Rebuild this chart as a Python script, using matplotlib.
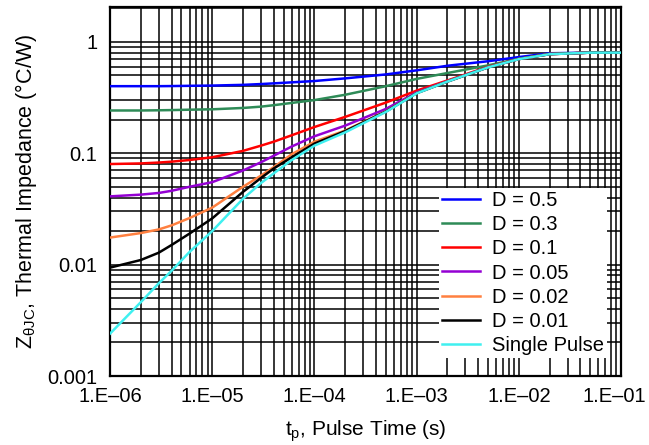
import matplotlib
matplotlib.use("Agg")
import matplotlib.pyplot as plt
import matplotlib.transforms as mtransforms
from matplotlib.ticker import LogLocator, FixedLocator, FixedFormatter, NullFormatter

plt.rcParams['font.family'] = ['Liberation Sans', 'DejaVu Sans']
plt.rcParams['mathtext.default'] = 'regular'

# Pulse time (s)
pulse_time = [1e-6, 2e-6, 3e-6, 4e-6, 6e-6, 1e-5, 2e-5, 3e-5, 4e-5, 6e-5,
              1e-4, 2e-4, 5e-4, 1e-3, 2e-3, 5e-3, 1e-2, 2e-2, 5e-2, 1e-1]

d_050 = [0.400, 0.400, 0.400, 0.401, 0.403, 0.405, 0.411, 0.418, 0.424, 0.433,
         0.445, 0.470, 0.510, 0.555, 0.610, 0.670, 0.730, 0.790, 0.800, 0.800]
d_030 = [0.242, 0.242, 0.243, 0.244, 0.246, 0.248, 0.255, 0.262, 0.270, 0.283,
         0.300, 0.335, 0.400, 0.465, 0.525, 0.615, 0.705, 0.780, 0.800, 0.800]
d_010 = [0.080, 0.081, 0.0825, 0.084, 0.087, 0.092, 0.105, 0.117, 0.127, 0.145,
         0.172, 0.212, 0.285, 0.365, 0.450, 0.598, 0.702, 0.777, 0.800, 0.800]
d_005 = [0.041, 0.0425, 0.0440, 0.0460, 0.050, 0.055, 0.070, 0.083, 0.095, 0.115,
         0.142, 0.177, 0.250, 0.352, 0.443, 0.592, 0.701, 0.776, 0.800, 0.800]
d_002 = [0.0175, 0.0192, 0.0207, 0.0225, 0.0262, 0.0325, 0.050, 0.063, 0.075, 0.098,
         0.127, 0.160, 0.238, 0.347, 0.441, 0.591, 0.700, 0.775, 0.800, 0.800]
d_001 = [0.0094, 0.0110, 0.0128, 0.0150, 0.019, 0.026, 0.045, 0.060, 0.073, 0.092,
         0.122, 0.158, 0.237, 0.346, 0.440, 0.590, 0.700, 0.775, 0.800, 0.800]
single = [0.0024, 0.0046, 0.0068, 0.0088, 0.013, 0.020, 0.039, 0.054, 0.066, 0.087,
          0.117, 0.154, 0.235, 0.345, 0.440, 0.590, 0.700, 0.775, 0.800, 0.800]

series = [
    ("D = 0.5", d_050, "#0000FF"),
    ("D = 0.3", d_030, "#2E8B57"),
    ("D = 0.1", d_010, "#FF0000"),
    ("D = 0.05", d_005, "#9400D3"),
    ("D = 0.02", d_002, "#FF8040"),
    ("D = 0.01", d_001, "#000000"),
    ("Single Pulse", single, "#40F0F0"),
]

x_ticks = [1e-6, 1e-5, 1e-4, 1e-3, 1e-2, 1e-1]
x_tick_labels = ["1.E\u201306", "1.E\u201305", "1.E\u201304", "1.E\u201303", "1.E\u201302", "1.E\u201301"]
y_ticks = [0.001, 0.01, 0.1, 1]
y_tick_labels = ["0.001", "0.01", "0.1", "1"]

fig = plt.figure(figsize=(6.49, 4.45), dpi=100)
ax = fig.add_axes([0.1695, 0.155, 0.957 - 0.1695, 0.984 - 0.155])

for label, vals, color in series:
    ax.plot(pulse_time, vals, color=color, lw=1.8, label=label, zorder=3)

ax.set_xscale('log')
ax.set_yscale('log')
ax.set_xlim(1e-6, 1e-1)
ax.set_ylim(0.001, 2.05)

ax.xaxis.set_major_locator(FixedLocator(x_ticks))
ax.xaxis.set_major_formatter(FixedFormatter(x_tick_labels))
ax.yaxis.set_major_locator(FixedLocator(y_ticks))
ax.yaxis.set_major_formatter(FixedFormatter(y_tick_labels))
ax.xaxis.set_minor_locator(LogLocator(base=10, subs=range(2, 10), numticks=20))
ax.yaxis.set_minor_locator(LogLocator(base=10, subs=range(2, 10), numticks=20))
ax.xaxis.set_minor_formatter(NullFormatter())
ax.yaxis.set_minor_formatter(NullFormatter())

ax.grid(True, which='both', color='black', lw=1.1, zorder=1)
ax.tick_params(axis='x', which='both', length=0, labelsize=14.5, pad=8)
ax.tick_params(axis='y', which='both', length=0, labelsize=14.5, pad=9)
for s in ax.spines.values():
    s.set_linewidth(1.6)
    s.set_color('black')

ax.set_xlabel(r"t$_{p}$, Pulse Time (s)", fontsize=15, labelpad=9)
ax.set_ylabel(r"Z$_{θJC}$, Thermal Impedance (°C/W)", fontsize=15.5, labelpad=6)

leg = ax.legend(loc='lower right', bbox_to_anchor=(0.973, 0.049), borderaxespad=0,
                fontsize=14.5, frameon=True, fancybox=False, framealpha=1,
                edgecolor='none', facecolor='white', handlelength=1.9,
                labelspacing=0.255, borderpad=0.15, handletextpad=0.6)
leg.set_zorder(5)

# nudge the last x tick label inward so it stays within the figure
fig.canvas.draw()
last = ax.get_xticklabels()[-1]
last.set_transform(last.get_transform() + mtransforms.ScaledTranslation(-5 / 72, 0, fig.dpi_scale_trans))

fig.savefig("out.png", dpi=100)
